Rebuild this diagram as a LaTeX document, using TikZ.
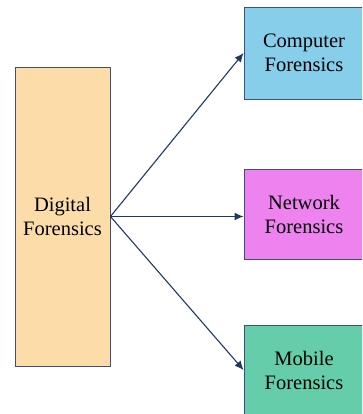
\documentclass[tikz,border=0pt]{standalone}
\usepackage{fontspec}
\setmainfont{Liberation Serif}
\usetikzlibrary{arrows.meta}
\usetikzlibrary{positioning}

\definecolor{digitalfill}{HTML}{FCDDAA}
\definecolor{computerfill}{HTML}{87CEEB}
\definecolor{networkfill}{HTML}{EE82EE}
\definecolor{mobilefill}{HTML}{66CDAA}
\definecolor{boxline}{HTML}{3A5080}
\definecolor{arrowline}{HTML}{1F3864}

\tikzset{
  fbox/.style={draw=boxline, line width=0.9pt, align=center, inner sep=0pt,
    font=\fontsize{20.5}{24}\selectfont},
  farrow/.style={draw=arrowline, line width=1.1pt, -{Latex[length=9pt,width=8pt]}}
}

\begin{document}
\begin{tikzpicture}[x=1pt, y=-1pt]

% Page and clip
\useasboundingbox (0,0) rectangle (362,414);
\clip (0,0) rectangle (362,414);

% Main box on the left
\node[fbox, fill=digitalfill, minimum width=95pt, minimum height=299pt] (digital) at (62.5,216.5) {Digital\\Forensics};

% The three branches on the right
\node[fbox, fill=computerfill, minimum width=120pt, minimum height=92pt] (computer) at (304,53) {Computer\\Forensics};
\node[fbox, fill=networkfill, minimum width=120pt, minimum height=90pt] (network) at (304,214) {Network\\Forensics};
\node[fbox, fill=mobilefill, minimum width=120pt, minimum height=90pt] (mobile) at (304,370) {Mobile\\Forensics};

% Arrows from the main box
\draw[farrow] (digital.east) -- (computer.west);
\draw[farrow] (digital.east) -- (digital.east -| network.west);
\draw[farrow] (digital.east) -- (mobile.west);

\end{tikzpicture}
\end{document}
